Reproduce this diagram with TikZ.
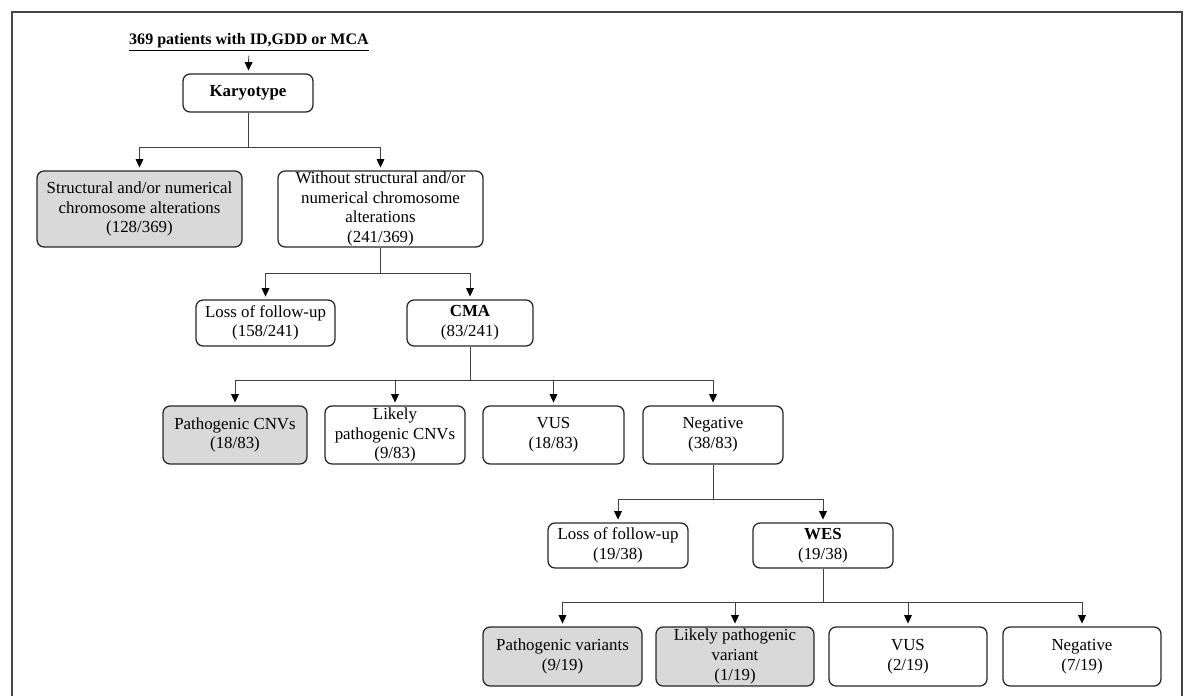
\documentclass[tikz,border=0pt]{standalone}
\usepackage{fontspec}
\setmainfont{Liberation Serif}
\usepackage{xcolor}
\usetikzlibrary{arrows.meta}
\definecolor{boxgray}{RGB}{217,217,217}
\definecolor{framegray}{RGB}{70,70,70}

\tikzset{
    box/.style={draw=black!85, line width=0.9pt, rounded corners=5pt, align=center, inner sep=0pt,
        font=\fontsize{12}{14}\selectfont},
    graybox/.style={box, fill=boxgray},
    link/.style={draw=black!75, line width=0.6pt, -{Triangle[length=6pt,width=5.5pt,color=black]}, shorten >=2pt}
}

\begin{document}
\begin{tikzpicture}[x=0.025cm, y=-0.025cm]
    \useasboundingbox (0,0) rectangle (1186,696);
    \draw[framegray, line width=1.4pt] (12,12) rectangle (1182,720); % outer frame, bottom edge cut off

    % top level
    \node (title) at (249,42) {\fontsize{11.4}{14}\selectfont\underline{\textbf{369 patients with ID,GDD or MCA}}};
    \node[box, minimum width=130*0.025cm, minimum height=38*0.025cm] (kar) at (248,93) {\textbf{Karyotype}};

    \node[graybox, minimum width=205*0.025cm, minimum height=76*0.025cm] (struct) at (139.5,209) {Structural and/or numerical\\chromosome alterations\\(128/369)};
    \node[box, minimum width=205*0.025cm, minimum height=76*0.025cm] (without) at (380.5,209) {Without structural and/or\\numerical chromosome\\alterations\\(241/369)};

    % CMA level
    \node[box, minimum width=139*0.025cm, minimum height=46*0.025cm] (lossA) at (265.5,323) {Loss of follow-up\\(158/241)};
    \node[box, minimum width=126*0.025cm, minimum height=46*0.025cm] (cma) at (470,323) {\textbf{CMA}\\(83/241)};

    \node[graybox, minimum width=144*0.025cm, minimum height=58*0.025cm] (pcnv) at (235,435) {Pathogenic CNVs\\(18/83)};
    \node[box, minimum width=140*0.025cm, minimum height=58*0.025cm] (lpcnv) at (395,435) {Likely\\pathogenic CNVs\\(9/83)};
    \node[box, minimum width=141*0.025cm, minimum height=58*0.025cm] (vusA) at (553.5,435) {VUS\\(18/83)};
    \node[box, minimum width=140*0.025cm, minimum height=58*0.025cm] (negA) at (713,435) {Negative\\(38/83)};

    % WES level
    \node[box, minimum width=140*0.025cm, minimum height=45*0.025cm] (lossB) at (618,545.5) {Loss of follow-up\\(19/38)};
    \node[box, minimum width=140*0.025cm, minimum height=45*0.025cm] (wes) at (823,545.5) {\textbf{WES}\\(19/38)};

    \node[graybox, minimum width=159*0.025cm, minimum height=59*0.025cm] (pvar) at (562.5,656.5) {Pathogenic variants\\(9/19)};
    \node[graybox, minimum width=158*0.025cm, minimum height=59*0.025cm] (lpvar) at (735,656.5) {Likely pathogenic\\variant\\(1/19)};
    \node[box, minimum width=158*0.025cm, minimum height=59*0.025cm] (vusB) at (908,656.5) {VUS\\(2/19)};
    \node[box, minimum width=158*0.025cm, minimum height=59*0.025cm] (negB) at (1082,656.5) {Negative\\(7/19)};

    % connectors
    \draw[link] (title) -- (kar);
    \draw[link] (kar.south) -- ++(0,35) -| (struct.north);
    \draw[link] (kar.south) -- ++(0,35) -| (without.north);
    \draw[link] (without.south) -- ++(0,26) -| (lossA.north);
    \draw[link] (without.south) -- ++(0,26) -| (cma.north);
    \draw[link] (cma.south) -- ++(0,34) -| (pcnv.north);
    \draw[link] (cma.south) -- ++(0,34) -| (lpcnv.north);
    \draw[link] (cma.south) -- ++(0,34) -| (vusA.north);
    \draw[link] (cma.south) -- ++(0,34) -| (negA.north);
    \draw[link] (negA.south) -- ++(0,35) -| (lossB.north);
    \draw[link] (negA.south) -- ++(0,35) -| (wes.north);
    \draw[link] (wes.south) -- ++(0,34) -| (pvar.north);
    \draw[link] (wes.south) -- ++(0,34) -| (lpvar.north);
    \draw[link] (wes.south) -- ++(0,34) -| (vusB.north);
    \draw[link] (wes.south) -- ++(0,34) -| (negB.north);
\end{tikzpicture}
\end{document}
